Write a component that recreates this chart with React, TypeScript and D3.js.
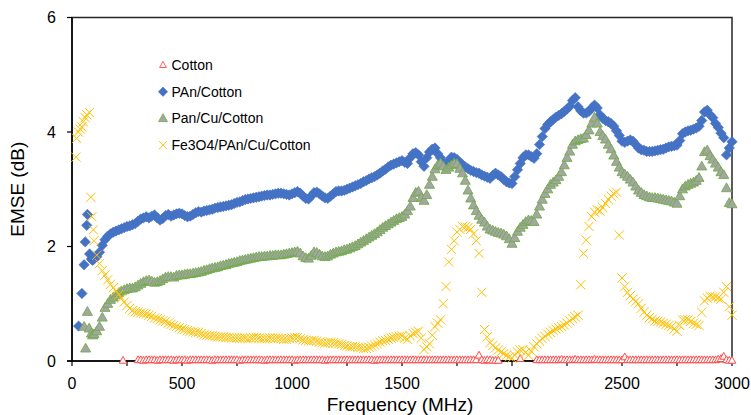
import React, { useEffect, useRef } from "react";
import * as d3 from "d3";

type Pt = [number, number];

// sampling grid of the sweep above 100 MHz (12.5 MHz step)
const freqGrid = d3.range(100, 3000.1, 12.5);

// EMSE (dB) values, one per grid frequency (rows = 100 MHz)
const cottonVals: (number | null)[] = [
  null, null, null, null, null, null, null, null,
  null, null, null, null, null, null, null, null,
  0.02, 0.02, 0.01, 0.02, 0.02, 0.02, 0.02, 0.01,
  0.02, 0.02, 0.02, 0.02, 0.02, 0.01, 0.02, 0.02,
  0.02, 0.02, 0.01, 0.02, 0.02, 0.02, 0.02, 0.02,
  0.02, 0.02, 0.02, 0.01, 0.02, 0.02, 0.02, 0.02,
  0.02, 0.02, 0.02, 0.02, 0.02, 0.01, 0.02, 0.02,
  0.02, 0.02, 0.02, 0.02, 0.02, 0.02, 0.01, 0.02,
  0.02, 0.02, 0.02, 0.02, 0.02, 0.02, 0.02, 0.02,
  0.02, 0.01, 0.02, 0.02, 0.02, 0.02, 0.02, 0.02,
  0.02, 0.02, 0.02, 0.02, 0.01, 0.02, 0.02, 0.02,
  0.02, 0.02, 0.02, 0.02, 0.02, 0.02, 0.02, 0.02,
  0.02, 0.02, 0.02, 0.02, 0.02, 0.02, 0.01, 0.02,
  0.02, 0.02, 0.02, 0.02, 0.02, 0.02, 0.02, 0.02,
  0.02, 0.02, 0.02, 0.02, 0.02, 0.02, 0.02, 0.02,
  0.02, 0.02, 0.02, 0.02, 0.02, 0.02, 0.02, 0.02,
  0.02, 0.02, 0.02, 0.02, 0.02, 0.02, 0.02, 0.02,
  0.02, 0.02, 0.02, 0.02, 0.1, 0.02, 0.01, 0.02,
  0.02, 0.01, 0.01, 0.01, null, null, null, null,
  null, null, null, 0.04, null, null, null, null,
  null, 0.02, 0.02, 0.02, 0.02, 0.02, 0.02, 0.02,
  0.02, 0.02, 0.03, 0.02, 0.02, 0.02, 0.02, 0.03,
  0.02, 0.02, 0.02, 0.02, 0.02, 0.02, 0.03, 0.02,
  0.02, 0.02, 0.02, 0.02, 0.02, 0.02, 0.02, 0.02,
  0.02, 0.07, 0.02, 0.02, 0.02, 0.02, 0.02, 0.02,
  0.02, 0.02, 0.02, 0.02, 0.02, 0.02, 0.02, 0.02,
  0.02, 0.02, 0.02, 0.02, 0.02, 0.02, 0.02, 0.02,
  0.02, 0.02, 0.02, 0.02, 0.02, 0.02, 0.02, 0.02,
  0.02, 0.02, 0.02, 0.03, 0.04, 0.08, 0.02, 0.01,
  0.01,
];

const panCottonVals = [
  1.78, 1.82, 1.9, 2.02, 2.12, 2.18, 2.22, 2.25,
  2.27, 2.29, 2.31, 2.33, 2.35, 2.36, 2.38, 2.4,
  2.44, 2.48, 2.5, 2.52, 2.5, 2.53, 2.55, 2.5,
  2.46, 2.49, 2.54, 2.56, 2.53, 2.55, 2.57, 2.58,
  2.57, 2.54, 2.52, 2.53, 2.56, 2.59, 2.61, 2.6,
  2.62, 2.63, 2.64, 2.65, 2.67, 2.68, 2.69, 2.7,
  2.71, 2.72, 2.73, 2.75, 2.77, 2.78, 2.8, 2.82,
  2.83, 2.84, 2.85, 2.86, 2.87, 2.88, 2.89, 2.9,
  2.9, 2.91, 2.92, 2.93, 2.93, 2.92, 2.91, 2.9,
  2.92, 2.94, 2.96, 2.93, 2.88, 2.84, 2.83, 2.88,
  2.94, 2.95, 2.92, 2.88, 2.85, 2.84, 2.88, 2.92,
  2.96, 2.97, 2.97, 2.98, 3.0, 3.02, 3.04, 3.06,
  3.08, 3.1, 3.13, 3.15, 3.18, 3.2, 3.22, 3.25,
  3.28, 3.32, 3.35, 3.39, 3.42, 3.44, 3.46, 3.48,
  3.5, 3.47, 3.45, 3.55, 3.62, 3.64, 3.6, 3.48,
  3.4, 3.55, 3.65, 3.7, 3.72, 3.62, 3.55, 3.45,
  3.43, 3.5, 3.56, 3.55, 3.52, 3.47, 3.43, 3.39,
  3.36, 3.33, 3.31, 3.29, 3.28, 3.25, 3.23, 3.21,
  3.19, 3.24, 3.28, 3.25, 3.22, 3.17, 3.13, 3.11,
  3.1, 3.22, 3.34, 3.45, 3.55, 3.6, 3.6, 3.57,
  3.54, 3.62, 3.78, 3.92, 4.06, 4.13, 4.18, 4.22,
  4.26, 4.29, 4.32, 4.36, 4.4, 4.45, 4.55, 4.6,
  4.44, 4.37, 4.33, 4.33, 4.36, 4.42, 4.47, 4.42,
  4.3, 4.24, 4.2, 4.18, 4.15, 4.1, 4.02, 3.94,
  3.84, 3.82, 3.84, 3.86, 3.84, 3.78, 3.72, 3.69,
  3.68, 3.66, 3.66, 3.66, 3.67, 3.68, 3.69, 3.7,
  3.72, 3.74, 3.75, 3.76, 3.77, 3.85, 3.97, 4.0,
  4.02, 4.03, 4.05, 4.07, 4.1, 4.2, 4.35, 4.38,
  4.3, 4.25, 4.15, 4.08, 3.98, 3.9, 3.6, 3.72,
  3.83,
];

const panCuCottonVals = [
  0.47, 0.52, 0.6, 0.76, 0.93, 1.0, 1.07, 1.11,
  1.15, 1.19, 1.22, 1.24, 1.26, 1.27, 1.27, 1.29,
  1.32, 1.35, 1.38, 1.4, 1.41, 1.39, 1.37, 1.38,
  1.4, 1.43, 1.46, 1.47, 1.47, 1.46, 1.49, 1.5,
  1.5, 1.51, 1.52, 1.52, 1.53, 1.54, 1.55, 1.56,
  1.58, 1.59, 1.61, 1.62, 1.63, 1.64, 1.66, 1.67,
  1.68, 1.7, 1.71, 1.72, 1.73, 1.75, 1.76, 1.77,
  1.78, 1.79, 1.8, 1.81, 1.82, 1.82, 1.83, 1.83,
  1.84, 1.84, 1.85, 1.85, 1.85, 1.86, 1.87, 1.88,
  1.89, 1.9, 1.91, 1.88, 1.83, 1.8, 1.79, 1.84,
  1.9, 1.89, 1.86, 1.83, 1.82, 1.83, 1.86, 1.88,
  1.9, 1.91, 1.92, 1.94, 1.95, 1.97, 1.99, 2.01,
  2.04, 2.07, 2.1, 2.13, 2.16, 2.19, 2.22, 2.25,
  2.29, 2.33, 2.36, 2.39, 2.42, 2.45, 2.48, 2.5,
  2.52, 2.56, 2.62, 2.7, 2.85, 2.94, 2.96, 2.85,
  2.8, 2.9, 3.08, 3.22, 3.35, 3.42, 3.45, 3.4,
  3.34, 3.38, 3.42, 3.45, 3.44, 3.36, 3.28, 3.15,
  2.98, 2.84, 2.72, 2.62, 2.54, 2.47, 2.42, 2.35,
  2.3, 2.28, 2.26, 2.24, 2.23, 2.21, 2.18, 2.13,
  2.05, 2.15, 2.26, 2.33, 2.38, 2.43, 2.46, 2.45,
  2.43, 2.56, 2.7, 2.82, 2.92, 3.0, 3.08, 3.12,
  3.16, 3.22, 3.3, 3.42, 3.55, 3.66, 3.78, 3.84,
  3.86, 3.88, 3.89, 3.95, 4.03, 4.15, 4.25, 4.15,
  4.0, 3.93, 3.87, 3.78, 3.7, 3.59, 3.48, 3.38,
  3.3, 3.26, 3.22, 3.17, 3.12, 3.05, 2.98, 2.94,
  2.9, 2.88, 2.86, 2.85, 2.85, 2.84, 2.83, 2.82,
  2.81, 2.8, 2.79, 2.77, 2.75, 2.88, 3.0, 3.05,
  3.08, 3.1, 3.12, 3.15, 3.2, 3.4, 3.65, 3.68,
  3.58, 3.52, 3.45, 3.38, 3.3, 3.25, 3.02, 2.76,
  2.74,
];

const fe3o4Vals = [
  2.1, 1.85, 1.7, 1.58, 1.5, 1.42, 1.34, 1.28,
  1.22, 1.16, 1.1, 1.03, 0.97, 0.92, 0.88, 0.86,
  0.85, 0.84, 0.83, 0.82, 0.8, 0.78, 0.75, 0.74,
  0.72, 0.7, 0.69, 0.66, 0.64, 0.62, 0.6, 0.58,
  0.56, 0.55, 0.53, 0.52, 0.51, 0.5, 0.5, 0.48,
  0.46, 0.45, 0.44, 0.44, 0.43, 0.42, 0.42, 0.42,
  0.41, 0.41, 0.4, 0.4, 0.4, 0.4, 0.4, 0.4,
  0.39, 0.4, 0.41, 0.41, 0.4, 0.39, 0.39, 0.39,
  0.4, 0.4, 0.4, 0.4, 0.39, 0.38, 0.38, 0.39,
  0.4, 0.41, 0.41, 0.39, 0.37, 0.36, 0.35, 0.35,
  0.36, 0.35, 0.33, 0.32, 0.31, 0.32, 0.33, 0.32,
  0.31, 0.3, 0.29, 0.27, 0.26, 0.25, 0.25, 0.25,
  0.24, 0.23, 0.22, 0.22, 0.24, 0.26, 0.28, 0.3,
  0.33, 0.35, 0.36, 0.38, 0.4, 0.41, 0.42, 0.43,
  0.44, 0.4, 0.38, 0.44, 0.48, 0.5, 0.52, 0.4,
  0.2, 0.25, 0.3, 0.45, 0.6, 0.66, 0.72, 1.0,
  1.3, 1.73, 1.95, 2.1, 2.25, 2.3, 2.35, 2.34,
  2.33, 2.3, 2.22, 2.1, 1.88, 1.2, 0.55, 0.42,
  0.32, 0.27, 0.23, 0.19, 0.16, 0.13, 0.1, 0.07,
  0.05, 0.1, 0.16, 0.19, 0.2, 0.15, 0.1, 0.17,
  0.25, 0.3, 0.35, 0.39, 0.43, 0.47, 0.5, 0.53,
  0.56, 0.58, 0.6, 0.63, 0.66, 0.7, 0.74, 0.77,
  0.8, 1.33, 1.88, 2.11, 2.35, 2.52, 2.6, 2.64,
  2.62, 2.68, 2.75, 2.82, 2.88, 2.92, 2.95, 2.2,
  1.45, 1.3, 1.2, 1.14, 1.08, 1.04, 1.0, 0.92,
  0.85, 0.8, 0.76, 0.73, 0.7, 0.69, 0.68, 0.66,
  0.64, 0.62, 0.6, 0.56, 0.52, 0.62, 0.72, 0.72,
  0.72, 0.69, 0.66, 0.64, 0.62, 0.85, 1.05, 1.1,
  1.13, 1.12, 1.12, 1.1, 1.08, 1.2, 1.3, 0.95,
  0.8,
];

// low-frequency points below the grid, [MHz, dB]
const cottonLow: Pt[] = [[232, 0.01]];
const panCottonLow: Pt[] = [
  [30, 0.61], [45, 1.18], [55, 1.68], [60, 2.08], [67, 2.37], [70, 2.56], [80, 1.87], [88, 1.78], [94, 1.76],
];
const panCuCottonLow: Pt[] = [[55, 0.6], [62, 0.22], [70, 0.86], [78, 0.57], [88, 0.48], [94, 0.45]];
const fe3o4Low: Pt[] = [
  [18, 3.56], [21, 3.89], [29, 4.0], [38, 4.05], [44, 4.09], [51, 4.18], [60, 4.25], [67, 4.3], [79, 4.34],
  [86, 2.86], [90, 2.52], [97, 2.29],
];

const xTicks = [0, 500, 1000, 1500, 2000, 2500, 3000];
const xMinorTicks = [250, 750, 1250, 1750, 2250, 2750];
const yTicks = [0, 2, 4, 6];
const legendNames = ["Cotton", "PAn/Cotton", "Pan/Cu/Cotton", "Fe3O4/PAn/Cu/Cotton"];

const W = 751;
const H = 415;
const font = "'Liberation Sans', Arial, sans-serif";

// marker paths, centred on 0,0
const openTri = "M0,-4L3.8,2.8L-3.8,2.8Z";
const diamond = "M0,-5.2L5.2,0L0,5.2L-5.2,0Z";
const tri = "M0,-5.2L5,3.6L-5,3.6Z";
const cross = "M-4.6,-4.6L4.6,4.6M-4.6,4.6L4.6,-4.6";

const toPoints = (low: Pt[], vals: (number | null)[]): Pt[] => [
  ...low,
  ...vals
    .map((v, i) => [freqGrid[i], v] as [number, number | null])
    .filter((d): d is Pt => d[1] !== null),
];

const App = () => {
  const ref = useRef<SVGSVGElement>(null);

  useEffect(() => {
    const svg = d3.select(ref.current);
    svg.selectAll("*").remove();

    const x = d3.scaleLinear().domain([0, 3000]).range([72, 732]);
    const y = d3.scaleLinear().domain([0, 6]).range([361, 17.5]);

    // frame (top + right)
    svg.append("rect")
      .attr("x", x(0)).attr("y", y(6))
      .attr("width", x(3000) - x(0)).attr("height", y(0) - y(6))
      .attr("fill", "none").attr("stroke", "#262626").attr("stroke-width", 1.5);

    // axes
    const xAxis = svg.append("g").attr("transform", `translate(0,${y(0)})`);
    xAxis.append("line").attr("x1", x(0) - 5).attr("x2", x(3000))
      .attr("stroke", "#000").attr("stroke-width", 1.5);
    xAxis.selectAll(".tk").data([...xTicks, ...xMinorTicks]).enter().append("line")
      .attr("x1", (d) => x(d)).attr("x2", (d) => x(d)).attr("y1", 0).attr("y2", 5)
      .attr("stroke", "#000").attr("stroke-width", 1.2);
    xAxis.selectAll(".lb").data(xTicks).enter().append("text")
      .attr("x", (d) => x(d)).attr("y", 28)
      .attr("text-anchor", "middle").attr("font-family", font).attr("font-size", 16)
      .attr("fill", "#000").text((d) => d);

    const yAxis = svg.append("g").attr("transform", `translate(${x(0)},0)`);
    yAxis.append("line").attr("y1", y(0)).attr("y2", y(6))
      .attr("stroke", "#000").attr("stroke-width", 1.5);
    yAxis.selectAll(".tk").data(yTicks).enter().append("line")
      .attr("x1", -5).attr("x2", 0).attr("y1", (d) => y(d)).attr("y2", (d) => y(d))
      .attr("stroke", "#000").attr("stroke-width", 1.2);
    yAxis.selectAll(".lb").data(yTicks).enter().append("text")
      .attr("x", -16).attr("y", (d) => y(d)).attr("dy", "0.35em")
      .attr("text-anchor", "end").attr("font-family", font).attr("font-size", 16)
      .attr("fill", "#000").text((d) => d);

    svg.append("text")
      .attr("transform", `translate(24,${(y(0) + y(6)) / 2}) rotate(-90)`)
      .attr("text-anchor", "middle").attr("font-family", font).attr("font-size", 19)
      .attr("fill", "#000").text("EMSE (dB)");
    svg.append("text")
      .attr("x", (x(0) + x(3000)) / 2 - 2).attr("y", 411)
      .attr("text-anchor", "middle").attr("font-family", font).attr("font-size", 19)
      .attr("fill", "#000").text("Frequency (MHz)");

    const plot = svg.append("g");
    const draw = (data: Pt[], path: string, fill: string, stroke: string, sw: number) => {
      plot.append("g").selectAll("path").data(data).enter().append("path")
        .attr("d", path)
        .attr("transform", (d) => `translate(${x(d[0])},${y(d[1])})`)
        .attr("fill", fill).attr("stroke", stroke).attr("stroke-width", sw);
    };
    draw(toPoints(cottonLow, cottonVals), openTri, "#fff", "#FF4B4B", 1);
    draw(toPoints(panCottonLow, panCottonVals), diamond, "#4472C4", "#4472C4", 0.6);
    draw(toPoints(panCuCottonLow, panCuCottonVals), tri, "#A5A5A5", "#70AD47", 0.9);
    draw(toPoints(fe3o4Low, fe3o4Vals), cross, "none", "#FFC000", 1);

    // legend
    const markers = [
      { p: openTri, fill: "#fff", stroke: "#FF4B4B", sw: 1 },
      { p: diamond, fill: "#4472C4", stroke: "#4472C4", sw: 0.6 },
      { p: tri, fill: "#A5A5A5", stroke: "#70AD47", sw: 0.9 },
      { p: cross, fill: "none", stroke: "#FFC000", sw: 1 },
    ];
    const legend = svg.append("g");
    legendNames.forEach((name, i) => {
      const ly = 65 + i * 26.7;
      const m = markers[i];
      legend.append("path").attr("d", m.p)
        .attr("transform", `translate(163,${ly}) scale(0.9)`)
        .attr("fill", m.fill).attr("stroke", m.stroke).attr("stroke-width", m.sw);
      legend.append("text").attr("x", 171.5).attr("y", ly).attr("dy", "0.36em")
        .attr("font-family", font).attr("font-size", 14).attr("fill", "#000").text(name);
    });
  }, []);

  return (
    <svg
      ref={ref}
      width={W}
      height={H}
      style={{ position: "absolute", left: 0, top: 0, background: "#fff" }}
    />
  );
};

export default App;
